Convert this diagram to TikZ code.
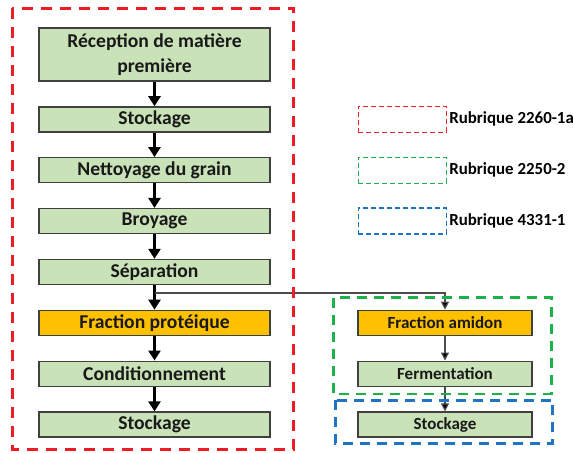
\documentclass[tikz,border=0pt]{standalone}
\usepackage{fontspec}
\setmainfont{Carlito}
\usepackage{tikz}
\usetikzlibrary{calc,chains,positioning,arrows.meta}

\definecolor{stepgreen}{HTML}{C9E2B8}
\definecolor{steporange}{HTML}{FFC000}
\definecolor{rubred}{HTML}{EE1C25}
\definecolor{rubgreen}{HTML}{1DB14B}
\definecolor{rubblue}{HTML}{1F74C4}

\begin{document}
\begin{tikzpicture}[
x=1pt, y=1pt,
stepbox/.style={
	draw=black!75, line width=1.3pt, rectangle,
	fill=stepgreen, minimum width=231pt, minimum height=25pt,
	inner sep=1pt, align=center, text=black!90,
	font=\fontsize{19.6}{25}\selectfont\bfseries
},
smallbox/.style={
	stepbox, minimum width=174pt,
	font=\fontsize{17}{20}\selectfont\bfseries
},
legbox/.style={
	line width=1.4pt, dash pattern=on 5pt off 3pt,
	minimum width=88pt, minimum height=26pt
},
legtext/.style={font=\fontsize{16.9}{20}\selectfont\bfseries, inner sep=0pt, anchor=west},
bigarrow/.style={line width=3pt, -{Triangle[width=12pt,length=10pt]}},
thinarrow/.style={line width=1.2pt, draw=black!70, -{Triangle[width=8pt,length=8pt,fill=black]}},
start chain=going below, node distance=24.56pt
]
\useasboundingbox (0,0) rectangle (573,-453);

% main column
\node[stepbox,on chain,minimum height=53pt] (1) at (154.5,-54.5) {R\'eception de mati\`ere\\premi\`ere};
\node[stepbox,on chain] (2) {Stockage};
\node[stepbox,on chain] (3) {Nettoyage du grain};
\node[stepbox,on chain] (4) {Broyage};
\node[stepbox,on chain] (5) {S\'eparation};
\node[stepbox,on chain,fill=steporange] (6) {Fraction prot\'eique};
\node[stepbox,on chain] (7) {Conditionnement};
\node[stepbox,on chain] (8) {Stockage};
\foreach \i in {1,...,7}
{
	\pgfmathsetmacro\next{int(\i + 1)}
	\draw[bigarrow] (\i.south) -- (\next.north);
}

% starch branch
\node[smallbox,fill=steporange,right=86.7pt of 6] (A) {Fraction amidon};
\node[smallbox,right=86.7pt of 7] (F) {Fermentation};
\node[smallbox,right=86.7pt of 8] (S) {Stockage};
\coordinate (B) at ($(5.south)!0.32!(6.north)$);
\draw[thinarrow] (B) -| (A.north);
\draw[thinarrow] (A) -- (F);
\draw[thinarrow] (F) -- (S);

% zones
\draw[rubred,line width=3pt,dash pattern=on 11pt off 8pt]
	($(1.north west)+(-26,19)$) rectangle ($(8.south east)+(23,-12)$);
\draw[rubgreen,line width=2.6pt,dash pattern=on 10pt off 7pt]
	($(A.north west)+(-24,12)$) rectangle ($(F.south east)+(19,-7)$);
\draw[rubblue,line width=2.6pt,dash pattern=on 10pt off 7pt]
	($(S.north west)+(-22,11)$) rectangle ($(S.south east)+(20,-6)$);

% legend
\node[legbox,draw=rubred,right=87pt of 2] (L1) {};
\node[legbox,draw=rubgreen,right=87pt of 3] (L2) {};
\node[legbox,draw=rubblue,right=87pt of 4] (L3) {};
\node[legtext,right=2pt of L1] (T1) {Rubrique 2260-1a};
\node[legtext,right=2pt of L2] (T2) {Rubrique 2250-2};
\node[legtext,right=2pt of L3] (T3) {Rubrique 4331-1};
\end{tikzpicture}
\end{document}
